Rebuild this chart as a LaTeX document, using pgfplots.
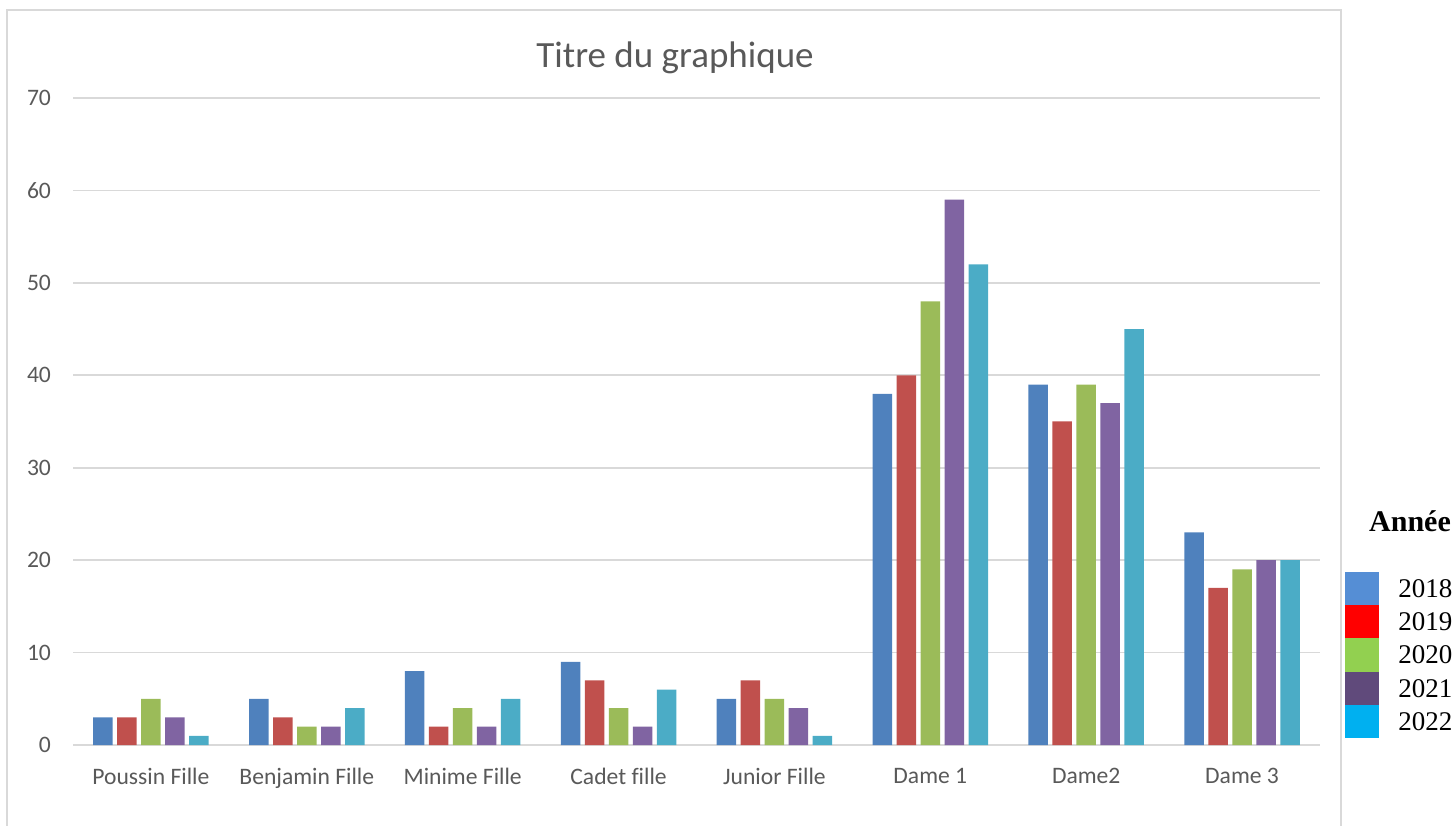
\documentclass[border=0pt]{standalone}
\usepackage{pgfplots}
\usepackage{pgfplotstable}
\pgfplotsset{compat=1.18}
\usepackage{fontspec}
\setmainfont[Ligatures=NoCommon]{Carlito}
\newfontfamily\timesfont{Liberation Serif}
\definecolor{b1}{HTML}{4F81BD}
\definecolor{b2}{HTML}{C0504D}
\definecolor{b3}{HTML}{9BBB59}
\definecolor{b4}{HTML}{8064A2}
\definecolor{b5}{HTML}{4BACC6}
\definecolor{l1}{HTML}{558ED5}
\definecolor{l2}{HTML}{FF0000}
\definecolor{l3}{HTML}{92D050}
\definecolor{l4}{HTML}{604A7B}
\definecolor{l5}{HTML}{00B0F0}
\definecolor{txt}{HTML}{595959}
\definecolor{grd}{HTML}{D9D9D9}
\pgfplotstableread{
x  a  b  c  d  e
0  3  3  5  3  1
1  5  3  2  2  4
2  8  2  4  2  5
3  9  7  4  2  6
4  5  7  5  4  1
5  38 40 48 59 52
6  39 35 39 37 45
7  23 17 19 20 20
}\datatable
\begin{document}
\begin{tikzpicture}
\useasboundingbox (0pt,0pt) rectangle (728pt,412.5pt);
\draw[color=grd, line width=0.75pt] (3.5pt,-5pt) -- (3.5pt,407.5pt) -- (670.5pt,407.5pt) -- (670.5pt,-5pt);
\node[anchor=base, text=txt, font=\fontsize{18.5}{20}\selectfont] at (337.5pt,378.5pt) {Titre du graphique};
\begin{axis}[
  at={(36.5pt,40pt)}, anchor=south west,
  scale only axis, width=623.5pt, height=323.5pt,
  xmin=-0.5, xmax=7.5, ymin=0, ymax=70,
  ytick={0,10,...,70},
  xtick={0,1,2,3,4,5,6,7},
  xticklabels={Poussin Fille,Benjamin Fille,Minime Fille,Cadet fille,Junior Fille,Dame 1,Dame2,Dame 3},
  axis line style={draw=none},
  major tick length=0pt,
  ymajorgrids,
  grid style={color=grd, line width=0.8pt},
  ticklabel style={text=txt, font=\fontsize{11.8}{13}\selectfont},
  yticklabel style={xshift=-7.5pt},
  xticklabel style={yshift=-8pt},
  /pgf/number format/assume math mode=true,
  clip=false,
  every axis plot/.append style={ybar, bar width=0.125, draw=none},
]
\addplot[fill=b1, bar shift=-0.308] table[x=x,y=a] {\datatable};
\addplot[fill=b2, bar shift=-0.154] table[x=x,y=b] {\datatable};
\addplot[fill=b3, bar shift=0] table[x=x,y=c] {\datatable};
\addplot[fill=b4, bar shift=0.154] table[x=x,y=d] {\datatable};
\addplot[fill=b5, bar shift=0.308] table[x=x,y=e] {\datatable};
\end{axis}
% legend
\node[anchor=base, font=\timesfont\bfseries\fontsize{15}{16}\selectfont] at (705pt,146.5pt) {Année};
\fill[l1] (672.5pt,126.5pt) rectangle (689.5pt,109.9pt);
\fill[l2] (672.5pt,109.9pt) rectangle (689.5pt,93.3pt);
\fill[l3] (672.5pt,93.3pt) rectangle (689.5pt,76.7pt);
\fill[l4] (672.5pt,76.7pt) rectangle (689.5pt,60.1pt);
\fill[l5] (672.5pt,60.1pt) rectangle (689.5pt,43.5pt);
\begin{scope}[every node/.style={anchor=west, inner sep=0pt, font=\timesfont\fontsize{13.5}{14}\selectfont}]
\node at (699pt,118.2pt) {2018};
\node at (699pt,101.6pt) {2019};
\node at (699pt,85pt) {2020};
\node at (699pt,68.4pt) {2021};
\node at (699pt,51.8pt) {2022};
\end{scope}
\end{tikzpicture}
\end{document}
